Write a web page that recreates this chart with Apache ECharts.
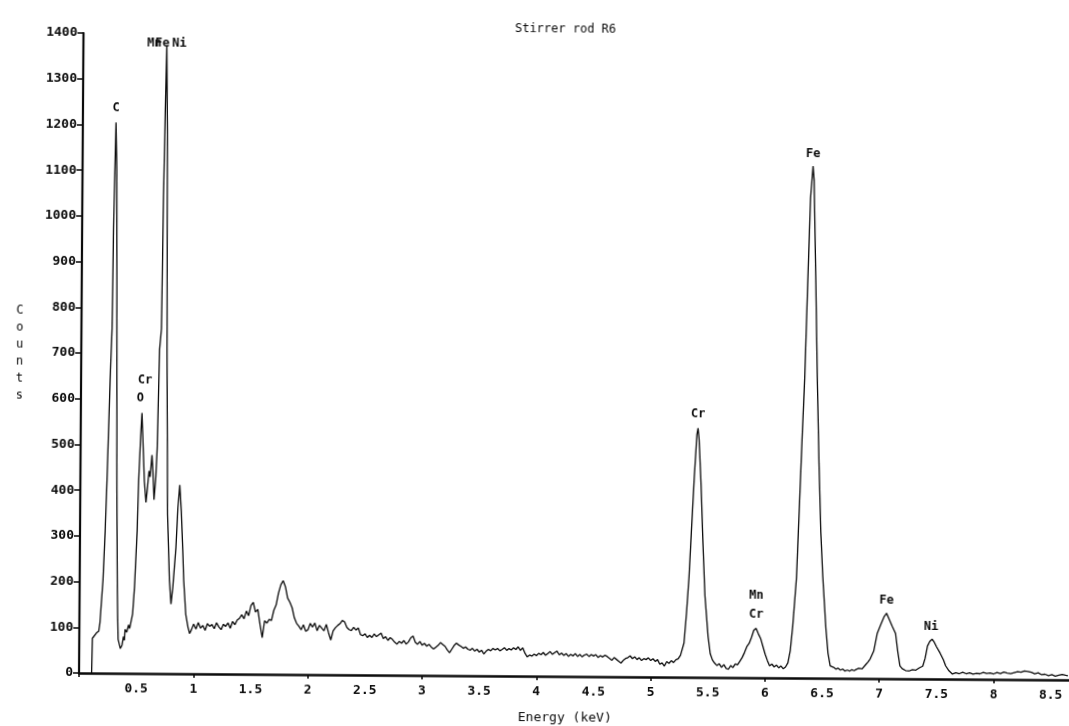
<!DOCTYPE html>
<html>
<head>
<meta charset="utf-8">
<title>Stirrer rod R6</title>
<script src="https://cdn.jsdelivr.net/npm/echarts@6/dist/echarts.min.js"></script>
<style>
  html, body { margin: 0; padding: 0; background: #ffffff; overflow: hidden; }
  /* the plotted sheet sits a little askew on the page */
  #chart { width: 1069px; height: 726px; transform: rotate(0.4deg); transform-origin: 79px 678px; }
</style>
</head>
<body>
<div id="chart"></div>
<script>
// EDS spectrum of stirrer rod R6: counts versus energy (keV)

// Low-energy region: C K, O K / Cr L, Mn/Fe/Ni L lines
const lowEnergy = [
  [0.11, 0], [0.115, 76], [0.13, 80], [0.15, 88], [0.17, 92], [0.18, 110], [0.19, 150],
  [0.204, 204], [0.22, 310], [0.233, 422], [0.254, 639], [0.268, 754], [0.275, 972],
  [0.29, 1205], [0.30, 1100], [0.31, 760], [0.32, 400], [0.33, 180], [0.335, 120],
  [0.34, 74], [0.36, 54], [0.375, 62], [0.386, 80], [0.395, 72], [0.40, 96], [0.415, 90],
  [0.43, 106], [0.44, 98], [0.45, 98], [0.465, 130], [0.48, 189], [0.50, 313], [0.51, 422],
  [0.525, 520], [0.535, 570], [0.545, 509], [0.56, 420], [0.575, 374], [0.585, 400],
  [0.60, 443], [0.61, 430], [0.625, 478], [0.635, 440], [0.645, 380], [0.66, 430],
  [0.67, 493], [0.685, 709], [0.70, 754], [0.71, 1043], [0.72, 1226], [0.73, 1374],
  [0.74, 1189], [0.75, 711], [0.765, 348], [0.785, 204], [0.80, 152], [0.815, 189],
  [0.84, 276], [0.855, 363], [0.87, 413], [0.885, 356], [0.90, 270], [0.91, 204],
  [0.93, 130], [0.95, 102], [0.965, 88], [0.98, 96]
];

// Bremsstrahlung background with Al and Si bumps, channels 0.02 keV apart from 1.00 keV
const bgStart = 1.00;
const bgStep = 0.02;
const bgCounts = [
  109, 98, 112, 100, 106, 95, 110, 104, 108, 99, 112, 103, 97, 109, 104, 112, 100, 115, 108, 118,
  122, 130, 121, 138, 128, 150, 157, 136, 142, 109, 80, 117, 112, 120, 118, 140, 152, 178, 196, 205,
  192, 167, 158, 146, 124, 112, 106, 98, 109, 95, 98, 112, 104, 113, 96, 108, 102, 96, 110, 92,
  76, 96, 103, 108, 112, 119, 116, 104, 99, 97, 104, 98, 103, 88, 86, 90, 82, 87, 82, 90,
  84, 88, 92, 80, 84, 76, 82, 78, 72, 68, 74, 70, 76, 68, 73, 82, 86, 72, 68, 74,
  66, 70, 64, 68, 62, 58, 62, 66, 72, 68, 64, 56, 50, 58, 66, 71, 67, 64, 60, 63,
  58, 56, 60, 54, 58, 52, 56, 48, 54, 58, 55, 60, 57, 60, 55, 58, 62, 56, 60, 57,
  62, 58, 64, 56, 62, 50, 42, 46, 44, 48, 45, 50, 47, 52, 46, 50, 54, 48, 52, 55,
  47, 51, 46, 50, 44, 48, 45, 50, 44, 48, 43, 47, 49, 44, 48, 45, 48, 42, 46, 43,
  47, 44, 40, 36, 42, 38, 34, 30, 36, 40, 42, 46, 40, 44, 38, 42, 36, 40, 38, 42,
  36, 40, 34, 38, 28, 31, 24, 34, 30, 36, 32, 38, 40
];

// K-line region: Cr K-alpha, Mn K / Cr K-beta, Fe K-alpha, Fe K-beta, Ni K-alpha
const kLines = [
  [5.26, 48], [5.29, 75], [5.31, 140], [5.33, 220], [5.35, 330], [5.37, 438], [5.39, 530],
  [5.40, 545], [5.41, 520], [5.43, 420], [5.45, 292], [5.47, 180], [5.50, 90], [5.52, 52],
  [5.54, 38], [5.56, 31], [5.58, 26], [5.60, 30], [5.62, 22], [5.64, 28], [5.66, 20],
  [5.68, 18], [5.70, 26], [5.72, 22], [5.74, 30], [5.76, 28], [5.78, 36], [5.80, 44],
  [5.82, 55], [5.84, 68], [5.86, 75], [5.88, 88], [5.90, 104], [5.92, 108], [5.94, 96],
  [5.96, 86], [5.98, 69], [6.00, 52], [6.02, 38], [6.04, 26], [6.06, 30], [6.08, 24],
  [6.10, 28], [6.12, 22], [6.14, 26], [6.16, 20], [6.18, 24], [6.20, 33], [6.22, 60],
  [6.24, 113], [6.27, 220], [6.29, 367], [6.31, 520], [6.33, 656], [6.35, 860],
  [6.37, 1050], [6.39, 1120], [6.40, 1090], [6.42, 880], [6.44, 657], [6.46, 470],
  [6.48, 320], [6.50, 222], [6.53, 110], [6.55, 55], [6.57, 27], [6.60, 24], [6.62, 20],
  [6.64, 22], [6.66, 18], [6.68, 20], [6.70, 16], [6.72, 18], [6.74, 16], [6.76, 19],
  [6.78, 17], [6.80, 20], [6.82, 22], [6.85, 21], [6.88, 30], [6.90, 36], [6.92, 43],
  [6.95, 60], [6.98, 99], [7.01, 118], [7.04, 136], [7.06, 143], [7.08, 132], [7.11, 115],
  [7.14, 99], [7.16, 60], [7.18, 28], [7.20, 22], [7.23, 18], [7.26, 17], [7.29, 20],
  [7.32, 19], [7.35, 24], [7.38, 28], [7.40, 45], [7.42, 72], [7.44, 82], [7.46, 87],
  [7.48, 80], [7.50, 70], [7.53, 57], [7.56, 42], [7.58, 29], [7.61, 18], [7.64, 11],
  [7.67, 14], [7.70, 12], [7.73, 15], [7.76, 12], [7.79, 14], [7.82, 11], [7.85, 13],
  [7.88, 12], [7.91, 15], [7.94, 13], [7.97, 14], [8.00, 12], [8.03, 15], [8.06, 13],
  [8.09, 16], [8.12, 14], [8.15, 13], [8.18, 15], [8.21, 17], [8.24, 16], [8.27, 19],
  [8.30, 18], [8.33, 16], [8.36, 13], [8.39, 15], [8.42, 11], [8.45, 12], [8.48, 9],
  [8.51, 11], [8.54, 8], [8.57, 10], [8.60, 12], [8.63, 10], [8.65, 9]
];

// Element labels: [text, energy (keV), counts]
const peakLabels = [
  ['C', 0.29, 1237],
  ['Mn', 0.62, 1378],
  ['Fe', 0.69, 1378],
  ['Ni', 0.84, 1378],
  ['Cr', 0.56, 641],
  ['O', 0.52, 602],
  ['Cr', 5.40, 575],
  ['Mn', 5.92, 180],
  ['Cr', 5.92, 138],
  ['Fe', 6.39, 1146],
  ['Fe', 7.06, 171],
  ['Ni', 7.45, 115]
];

const xLabelValues = [0.5, 1, 1.5, 2, 2.5, 3, 3.5, 4, 4.5, 5, 5.5, 6, 6.5, 7, 7.5, 8, 8.5];
const xTickValues = [0, 1, 2, 3, 4, 5, 6, 7, 8];

const spectrum = lowEnergy
  .concat(bgCounts.map((c, i) => [+(bgStart + i * bgStep).toFixed(2), c]))
  .concat(kLines);

const ink = '#0a0a0a';
const mono = '"DejaVu Sans Mono", "Liberation Mono", monospace';

const chart = echarts.init(document.getElementById('chart'), null, { renderer: 'canvas' });

chart.setOption({
  backgroundColor: '#ffffff',
  animation: false,
  title: {
    text: 'Stirrer rod R6',
    left: 556,
    top: 15,
    textAlign: 'center',
    textStyle: { fontFamily: mono, fontSize: 12, fontWeight: 'normal', color: ink }
  },
  grid: { left: 79, right: 0, top: 33, bottom: 48, containLabel: false },
  xAxis: {
    type: 'value',
    min: 0,
    max: 8.66,
    interval: 0.5,
    name: 'Energy (keV)',
    nameLocation: 'middle',
    nameGap: 35,
    nameTextStyle: { fontFamily: mono, fontSize: 13, color: ink, padding: [0, 18, 0, 0] },
    axisLine: { show: true, onZero: false, lineStyle: { color: ink, width: 2.5 } },
    axisTick: { show: true, customValues: xTickValues, length: 4, lineStyle: { color: ink, width: 1.5 } },
    axisLabel: {
      customValues: xLabelValues,
      margin: 9,
      fontFamily: mono,
      fontSize: 13,
      fontWeight: 'bold',
      color: ink,
      formatter: v => String(v)
    },
    splitLine: { show: false }
  },
  yAxis: {
    type: 'value',
    min: 0,
    max: 1400,
    interval: 100,
    name: 'C\no\nu\nn\nt\ns',
    nameLocation: 'middle',
    nameRotate: 0,
    nameGap: 58,
    nameTextStyle: { fontFamily: mono, fontSize: 12, lineHeight: 17, color: ink },
    axisLine: { show: true, lineStyle: { color: ink, width: 2.2 } },
    axisTick: { show: true, length: 6, lineStyle: { color: ink, width: 1.5 } },
    axisLabel: {
      margin: 6,
      fontFamily: mono,
      fontSize: 13,
      fontWeight: 'bold',
      color: ink,
      formatter: v => String(v)
    },
    splitLine: { show: false }
  },
  series: [
    {
      type: 'line',
      data: spectrum,
      showSymbol: false,
      symbol: 'none',
      lineStyle: { color: ink, width: 1.3 },
      z: 2
    },
    {
      type: 'scatter',
      data: peakLabels.map(p => ({ name: p[0], value: [p[1], p[2]] })),
      symbolSize: 0,
      silent: true,
      itemStyle: { opacity: 1, color: ink },
      label: {
        show: true,
        position: 'inside',
        formatter: p => p.name,
        fontFamily: mono,
        fontSize: 12,
        fontWeight: 'bold',
        color: ink,
        textBorderWidth: 0,
        textBorderColor: 'transparent'
      },
      z: 3
    }
  ]
});
</script>
</body>
</html>
